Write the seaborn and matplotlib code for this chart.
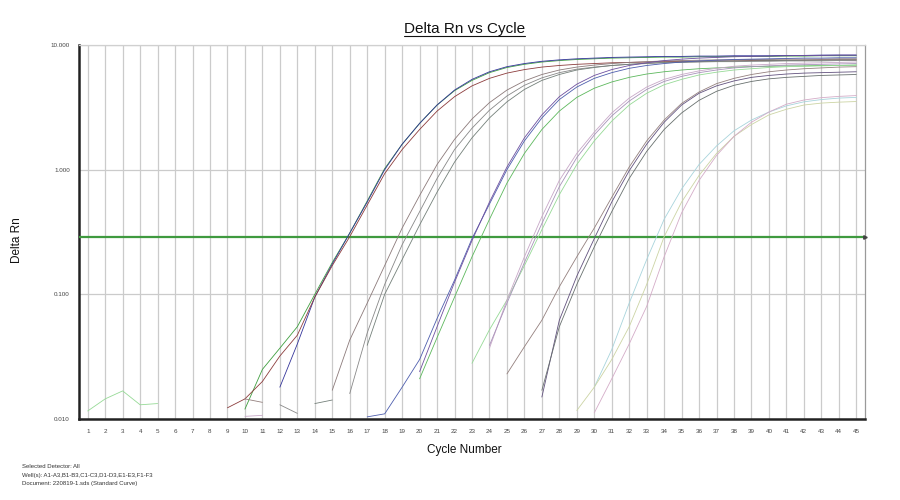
import numpy as np
import pandas as pd
import matplotlib
matplotlib.use("Agg")
import matplotlib.pyplot as plt
import seaborn as sns
from matplotlib.lines import Line2D
from matplotlib.ticker import NullLocator, FixedLocator

# ---------------- data ----------------
CYCLES = list(range(1, 46))
Y_TICKS = [0.01, 0.1, 1.0, 10.0]
Y_TICK_LABELS = ["0.010", "0.100", "1.000", "10.000"]
THRESHOLD = 0.29

# each curve: first cycle + Delta Rn values for consecutive cycles
A1_START = 10
A1 = [0.012, 0.025, 0.037, 0.055, 0.10, 0.18, 0.31, 0.56, 1.02, 1.6, 2.35, 3.3, 4.3, 5.2, 6.0, 6.6, 7.0, 7.3,
      7.5, 7.65, 7.75, 7.85, 7.9, 7.95, 8.0, 8.0, 8.05, 8.05, 8.1, 8.1, 8.1, 8.15, 8.15, 8.2, 8.2, 8.2]
A2_START = 12
A2 = [0.018, 0.040, 0.095, 0.175, 0.31, 0.55, 1.0, 1.6, 2.35, 3.3, 4.35, 5.3, 6.1, 6.7, 7.1, 7.4, 7.6, 7.75,
      7.85, 7.95, 8.0, 8.05, 8.1, 8.1, 8.15, 8.15, 8.2, 8.2, 8.2, 8.25, 8.25, 8.3, 8.3, 8.3]
A3_START = 9
A3 = [0.0123, 0.0145, 0.020, 0.032, 0.047, 0.095, 0.17, 0.29, 0.52, 0.93, 1.45, 2.1, 2.95, 3.85, 4.7, 5.4,
      5.95, 6.35, 6.65, 6.85, 7.0, 7.1, 7.2, 7.25, 7.3, 7.35, 7.4, 7.4, 7.45, 7.45, 7.5, 7.5, 7.55, 7.55,
      7.6, 7.6, 7.6]
B1_START = 15
B1 = [0.017, 0.043, 0.085, 0.17, 0.34, 0.62, 1.1, 1.75, 2.55, 3.45, 4.35, 5.15, 5.8, 6.3, 6.65, 6.9, 7.1,
      7.25, 7.35, 7.45, 7.5, 7.55, 7.6, 7.6, 7.65, 7.65, 7.7, 7.7, 7.7, 7.75, 7.75]
B2_EARLY_START = 12
B2_EARLY = [0.013, 0.0111]
B2_START = 16
B2 = [0.016, 0.049, 0.12, 0.25, 0.46, 0.85, 1.45, 2.15, 3.0, 3.9, 4.75, 5.45, 6.0, 6.4, 6.65, 6.85, 7.0,
      7.1, 7.2, 7.25, 7.3, 7.35, 7.35, 7.4, 7.4, 7.45, 7.45, 7.45, 7.5, 7.5]
B3_EARLY_START = 14
B3_EARLY = [0.0133, 0.0142]
B3_START = 17
B3 = [0.039, 0.10, 0.19, 0.36, 0.66, 1.15, 1.8, 2.6, 3.5, 4.4, 5.2, 5.8, 6.3, 6.6, 6.85, 7.0, 7.15, 7.25,
      7.3, 7.35, 7.4, 7.45, 7.45, 7.5, 7.5, 7.55, 7.55, 7.6, 7.6]
C1_START = 17
C1 = [0.0104, 0.011, 0.018, 0.030, 0.064, 0.13, 0.28, 0.53, 1.0, 1.7, 2.6, 3.65, 4.6, 5.4, 6.0, 6.5, 6.85,
      7.1, 7.3, 7.45, 7.55, 7.65, 7.7, 7.75, 7.8, 7.85, 7.85, 7.9, 7.9]
C2_START = 20
C2 = [0.024, 0.055, 0.125, 0.27, 0.55, 1.05, 1.8, 2.75, 3.85, 4.85, 5.7, 6.35, 6.85, 7.2, 7.5, 7.7, 7.85,
      7.95, 8.05, 8.1, 8.15, 8.2, 8.25, 8.25, 8.3, 8.3]
C3_START = 20
C3 = [0.021, 0.045, 0.095, 0.20, 0.40, 0.78, 1.35, 2.1, 2.95, 3.8, 4.5, 5.05, 5.5, 5.85, 6.1, 6.3, 6.45,
      6.55, 6.65, 6.7, 6.75, 6.8, 6.8, 6.85, 6.85, 6.9]
D1_EARLY_START = 1
D1_EARLY = [0.0116, 0.0145, 0.0168, 0.013, 0.0133]
D1_START = 23
D1 = [0.028, 0.052, 0.09, 0.17, 0.33, 0.63, 1.1, 1.7, 2.45, 3.3, 4.1, 4.8, 5.3, 5.75, 6.05, 6.3, 6.45,
      6.6, 6.7, 6.75, 6.8, 6.85, 6.9]
D2_EARLY_START = 10
D2_EARLY = [0.0105, 0.0107]
D2_START = 24
D2 = [0.037, 0.09, 0.20, 0.42, 0.82, 1.35, 2.0, 2.85, 3.75, 4.6, 5.3, 5.8, 6.2, 6.5, 6.75, 6.9, 7.0, 7.1,
      7.15, 7.2, 7.25, 7.3]
D3_START = 24
D3 = [0.039, 0.085, 0.18, 0.37, 0.73, 1.25, 1.9, 2.7, 3.55, 4.4, 5.1, 5.6, 6.0, 6.3, 6.55, 6.7, 6.8, 6.9,
      6.95, 7.0, 7.05, 7.1]
E1_EARLY_START = 10
E1_EARLY = [0.0145, 0.0136]
E1_START = 25
E1 = [0.023, 0.038, 0.062, 0.115, 0.20, 0.34, 0.6, 1.05, 1.7, 2.5, 3.4, 4.2, 4.9, 5.4, 5.8, 6.1, 6.3,
      6.45, 6.55, 6.65, 6.7]
E2_START = 27
E2 = [0.015, 0.062, 0.14, 0.28, 0.55, 0.98, 1.6, 2.4, 3.3, 4.1, 4.7, 5.15, 5.5, 5.7, 5.85, 5.95, 6.0,
      6.05, 6.1]
E3_START = 27
E3 = [0.017, 0.055, 0.12, 0.24, 0.46, 0.85, 1.4, 2.1, 2.85, 3.6, 4.25, 4.75, 5.1, 5.35, 5.5, 5.6, 5.7,
      5.75, 5.8]
F1_START = 30
F1 = [0.018, 0.036, 0.085, 0.19, 0.40, 0.7, 1.1, 1.55, 2.05, 2.5, 2.9, 3.25, 3.5, 3.65, 3.75, 3.8]
F2_START = 29
F2 = [0.0117, 0.018, 0.030, 0.055, 0.12, 0.29, 0.55, 0.9, 1.35, 1.85, 2.3, 2.75, 3.05, 3.3, 3.42,
      3.48, 3.52]
F3_START = 30
F3 = [0.0112, 0.021, 0.040, 0.08, 0.20, 0.45, 0.82, 1.3, 1.85, 2.4, 2.9, 3.35, 3.62, 3.78, 3.87, 3.93]

WELLS = ["A1", "A2", "A3", "B1", "B2", "B3", "C1", "C2", "C3",
         "D1", "D2", "D3", "E1", "E2", "E3", "F1", "F2", "F3"]
WELL_COLORS = ["#3f9f3f", "#34349a", "#8c3c3c", "#8c7a7a", "#888888", "#74807a",
               "#4e5eae", "#6e50a0", "#5cb85c", "#96da96", "#c8a8c8", "#a892ba",
               "#94807e", "#62527e", "#68706e", "#a8d4dc", "#ccd4a4", "#d4acc8"]

FOOTER = ["Selected Detector: All",
          "Well(s): A1-A3,B1-B3,C1-C3,D1-D3,E1-E3,F1-F3",
          "Document: 220819-1.sds (Standard Curve)"]

# segments: (well, first cycle, values)
SEGMENTS = [
    ("A1", A1_START, A1), ("A2", A2_START, A2), ("A3", A3_START, A3),
    ("B1", B1_START, B1), ("B2", B2_EARLY_START, B2_EARLY), ("B2", B2_START, B2),
    ("B3", B3_EARLY_START, B3_EARLY), ("B3", B3_START, B3),
    ("C1", C1_START, C1), ("C2", C2_START, C2), ("C3", C3_START, C3),
    ("D1", D1_EARLY_START, D1_EARLY), ("D1", D1_START, D1),
    ("D2", D2_EARLY_START, D2_EARLY), ("D2", D2_START, D2), ("D3", D3_START, D3),
    ("E1", E1_EARLY_START, E1_EARLY), ("E1", E1_START, E1),
    ("E2", E2_START, E2), ("E3", E3_START, E3),
    ("F1", F1_START, F1), ("F2", F2_START, F2), ("F3", F3_START, F3),
]

rows = []
palette = {}
color_of = dict(zip(WELLS, WELL_COLORS))
for well, start, vals in SEGMENTS:
    seg = f"{well}-{start}"
    palette[seg] = color_of[well]
    for i, v in enumerate(vals):
        c = start + i
        if c <= CYCLES[-1]:
            rows.append({"seg": seg, "Cycle": c, "dRn": v})
df = pd.DataFrame(rows)

# ---------------- plot ----------------
sns.set_style("white")
plt.rcParams["font.family"] = ["Liberation Sans", "DejaVu Sans"]

fig = plt.figure(figsize=(9, 5), dpi=100)
ax = fig.add_axes([79 / 900, 1 - 419 / 500, (865 - 79) / 900, (419 - 45) / 500])

ax.set_yscale("log")
ax.set_xlim(0.5, 45.5)
ax.set_ylim(0.01, 10)

ax.set_xticks(CYCLES)
ax.set_xticklabels([str(c) for c in CYCLES])
ax.yaxis.set_major_locator(FixedLocator(Y_TICKS))
ax.set_yticklabels(Y_TICK_LABELS)
ax.yaxis.set_minor_locator(NullLocator())
ax.grid(True, axis="both", which="major", color="#cbcbcb", lw=0.9)
ax.set_axisbelow(True)

ax.axhline(THRESHOLD, color="#3f9a3f", lw=1.6, zorder=3)

sns.lineplot(data=df, x="Cycle", y="dRn", hue="seg", palette=palette,
             estimator=None, legend=False, lw=0.6, ax=ax, zorder=4)

ax.plot([45.5], [THRESHOLD], marker=">", ms=2.5, color="#444444", clip_on=False, zorder=5)

ax.set_xlabel("")
ax.set_ylabel("")
ax.tick_params(axis="both", length=0, labelsize=4.5, colors="#444444")
ax.tick_params(axis="x", pad=7.5)
ax.tick_params(axis="y", pad=6.5)

for s in ("left", "bottom"):
    ax.spines[s].set_color("#222222")
    ax.spines[s].set_linewidth(1.8)
ax.spines["top"].set_color("#d0d0d0")
ax.spines["top"].set_linewidth(0.9)
ax.spines["right"].set_color("#9a9a9a")
ax.spines["right"].set_linewidth(0.9)

title = fig.text(0.516, 1 - 33.3 / 500, "Delta Rn vs Cycle", ha="center", va="baseline",
                 fontsize=11, color="#111111")
fig.text(17 / 900, 1 - 240 / 500, "Delta Rn", rotation=90, ha="center", va="center",
         fontsize=8.5, color="#111111")
fig.text(464 / 900, 1 - 450 / 500, "Cycle Number", ha="center", va="center",
         fontsize=8.5, color="#111111")
for i, line in enumerate(FOOTER):
    fig.text(22 / 900, 1 - (466 + 9 * i) / 500, line, ha="left", va="center",
             fontsize=4.3, color="#333333")

fig.canvas.draw()
bb = title.get_window_extent().transformed(fig.transFigure.inverted())
uy = 1 - 35.5 / 500
fig.add_artist(Line2D([bb.x0, bb.x1], [uy, uy], transform=fig.transFigure,
                      color="#111111", lw=0.8))

fig.savefig("out.png", dpi=100)
